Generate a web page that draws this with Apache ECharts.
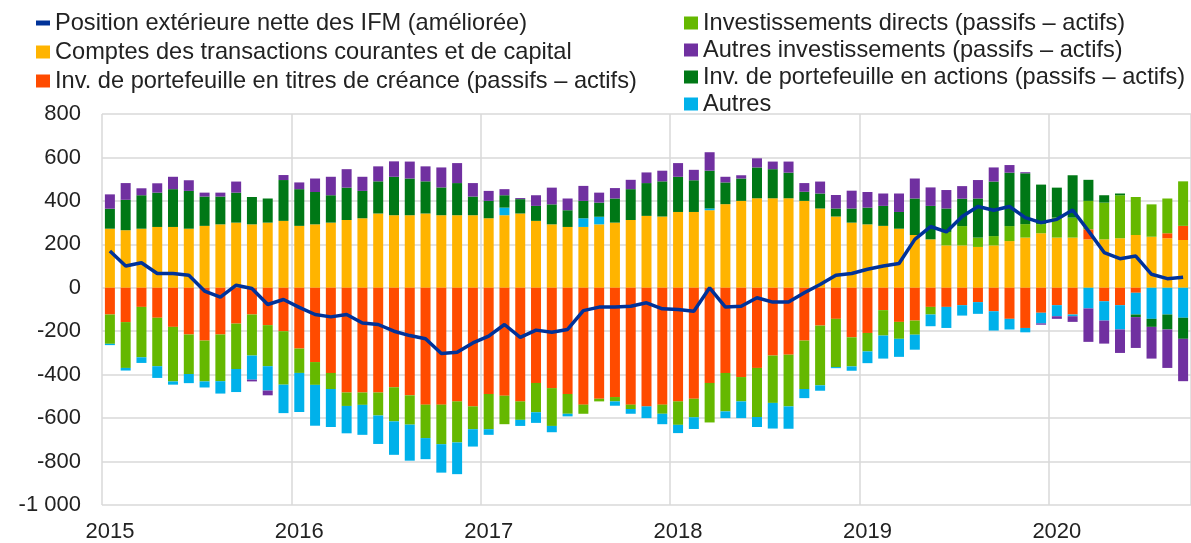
<!DOCTYPE html>
<html>
<head>
<meta charset="utf-8">
<script src="https://cdn.jsdelivr.net/npm/echarts@6/dist/echarts.min.js"></script>
<style>
  html, body { margin: 0; padding: 0; background: #fff; }
  #chart { width: 1191px; height: 543px; }
</style>
</head>
<body>
<div id="chart"></div>
<script>
// années affichées, mois de janv. 2015 à sept. 2020
const years = ['2015', '2016', '2017', '2018', '2019', '2020']
const nbMonths = 69
const months = []
for (let y = 0; y < years.length; y++) {
  for (let m = 1; m <= 12; m++) {
    if (months.length < nbMonths) months.push(years[y] + '-' + (m < 10 ? '0' + m : m))
  }
}

// Comptes des transactions courantes et de capital
const comptes = [
  272, 265, 272, 280, 280, 272, 285, 292, 300, 292, 300, 308,
  285, 292, 300, 312, 320, 342, 334, 334, 342, 334, 334, 334,
  320, 334, 342, 308, 292, 280, 280, 292, 300, 312, 331, 328,
  349, 349, 357, 385, 400, 412, 412, 412, 400, 365, 328, 300,
  292, 285, 272, 243, 223, 195, 195, 188, 195, 215, 231, 251,
  231, 231, 223, 223, 228, 243, 235, 228, 220
]
// Inv. de portefeuille en titres de créance
const titres = [
  -123, -158, -88, -138, -180, -215, -243, -215, -165, -123, -172, -200,
  -280, -342, -392, -482, -482, -482, -458, -495, -538, -538, -523, -546,
  -489, -497, -523, -438, -462, -489, -538, -511, -503, -538, -546, -538,
  -523, -511, -438, -392, -411, -369, -312, -308, -243, -174, -143, -228,
  -208, -103, -157, -151, -88, -88, -80, -66, -108, -143, -185, -115,
  -80, -123, 46, -62, -80, -23, 0, 23, 65
]
// Investissements directs
const directs = [
  -135, -211, -232, -223, -251, -182, -188, -215, -209, -189, -189, -246,
  -112, -105, -74, -62, -57, -106, -157, -135, -154, -182, -189, -105,
  -162, -131, -85, -135, -174, -91, -42, -12, -20, -20, 0, -42,
  -108, -85, -182, -177, -112, -226, -218, -238, -223, -275, -222, -134,
  -85, -117, -78, -65, -35, 62, 89, 43, 43, 69, 62, 42,
  92, 92, 131, 169, 198, 175, 149, 160, 205
]
// Autres
const autres = [
  -6, -12, -26, -54, -15, -42, -28, -57, -106, -111, -112, -131,
  -180, -188, -175, -126, -138, -131, -154, -166, -97, -131, -146, -80,
  -26, 35, -28, -49, -29, -12, 40, 35, -20, -22, -54, -48,
  -38, -54, 8, -31, -77, -46, -118, -103, -42, -25, -5, -20,
  -54, -106, -83, -69, -54, -97, -48, -54, -89, -49, -20, -49,
  -51, -8, -95, -89, -112, -100, -143, -123, -138
]
// Inv. de portefeuille en actions
const actions = [
  92, 140, 154, 158, 174, 174, 135, 128, 138, 126, 111, 188,
  169, 149, 126, 149, 126, 148, 177, 169, 148, 128, 148, 86,
  80, 57, 66, 69, 92, 77, 80, 65, 111, 142, 151, 162,
  162, 146, 174, 100, 103, 142, 134, 118, 42, 69, 37, 65,
  77, 92, 77, 168, 154, 108, 126, 180, 251, 246, 234, 182,
  138, 195, 97, 34, 8, -12, -37, -69, -97
]
// Autres investissements
const autresInv = [
  66, 77, 32, 43, 57, 49, 18, 18, 51, -8, -22, 23,
  31, 62, 85, 85, 65, 69, 71, 78, 69, 92, 92, 62,
  46, 28, 5, 49, 77, 54, 69, 46, 48, 43, 49, 49,
  63, 48, 85, 26, 15, 42, 35, 51, 40, 55, 62, 82,
  72, 57, 85, 92, 85, 85, 58, 85, 65, 35, 5, -6,
  -12, -26, -154, -106, -108, -142, -146, -177, -195
]
// Position extérieure nette des IFM (améliorée)
const position = [
  169, 100, 115, 66, 66, 58, -15, -43, 12, -3, -77, -54,
  -90, -123, -134, -123, -162, -169, -200, -220, -235, -303, -297, -254,
  -223, -169, -228, -195, -205, -192, -105, -89, -88, -85, -69, -97,
  -100, -108, 0, -89, -85, -46, -66, -66, -23, 15, 58, 66,
  85, 100, 112, 223, 282, 257, 328, 374, 357, 374, 323, 300,
  315, 358, 262, 162, 134, 146, 62, 42, 49
]

const names = {
  position: 'Position extérieure nette des IFM (améliorée)',
  comptes: 'Comptes des transactions courantes et de capital',
  titres: 'Inv. de portefeuille en titres de créance (passifs – actifs)',
  directs: 'Investissements directs (passifs – actifs)',
  autresInv: 'Autres investissements (passifs – actifs)',
  actions: 'Inv. de portefeuille en actions (passifs – actifs)',
  autres: 'Autres'
}

const font = 'Liberation Sans, Arial, sans-serif'

function barSerie(name, data, color) {
  return {
    name: name,
    type: 'bar',
    stack: 'total',
    barWidth: 10,
    itemStyle: { color: color },
    data: data
  }
}

const chart = echarts.init(document.getElementById('chart'))
chart.setOption({
  animation: false,
  textStyle: { fontFamily: font },
  grid: { left: 102, right: -5, top: 114, bottom: 38 },
  legend: [
    {
      left: 31, top: 6, orient: 'vertical', itemGap: 5,
      itemWidth: 14, itemHeight: 13,
      textStyle: { fontSize: 23.6, color: '#222', fontFamily: font },
      data: [
        { name: names.position, icon: 'path://M0,4H14V9H0Z' },
        { name: names.comptes, icon: 'rect' },
        { name: names.titres, icon: 'rect' }
      ]
    },
    {
      left: 679, top: 6, orient: 'vertical', itemGap: 3,
      itemWidth: 14, itemHeight: 13,
      textStyle: { fontSize: 23.6, color: '#222', fontFamily: font },
      data: [
        { name: names.directs, icon: 'rect' },
        { name: names.autresInv, icon: 'rect' },
        { name: names.actions, icon: 'rect' },
        { name: names.autres, icon: 'rect' }
      ]
    }
  ],
  xAxis: {
    type: 'category',
    data: months,
    boundaryGap: true,
    axisLine: { show: false },
    axisTick: { show: false },
    axisLabel: {
      interval: function (i) { return i % 12 === 0 },
      formatter: function (v) { return v.slice(0, 4) },
      fontSize: 22, color: '#222', margin: 16
    },
    splitLine: {
      show: true,
      interval: function (i) { return i % 12 === 0 },
      lineStyle: { color: '#d9d9d9', width: 1.5 }
    }
  },
  yAxis: {
    type: 'value',
    min: -1000, max: 800, interval: 200,
    axisLine: { show: false },
    axisTick: { show: false },
    axisLabel: {
      fontSize: 22, color: '#222', margin: 21,
      formatter: function (v) { return String(v).replace(/\B(?=(\d{3})+(?!\d))/g, ' ') }
    },
    splitLine: { lineStyle: { color: '#d9d9d9', width: 1.5 } }
  },
  series: [
    barSerie(names.comptes, comptes, '#ffb400'),
    barSerie(names.titres, titres, '#ff4b00'),
    barSerie(names.directs, directs, '#65b800'),
    barSerie(names.autres, autres, '#00b1ea'),
    barSerie(names.actions, actions, '#007816'),
    barSerie(names.autresInv, autresInv, '#7030a0'),
    {
      name: names.position,
      type: 'line',
      data: position,
      symbol: 'none',
      z: 10,
      itemStyle: { color: '#003299' },
      lineStyle: { color: '#003299', width: 3.5 }
    }
  ]
})
</script>
</body>
</html>
